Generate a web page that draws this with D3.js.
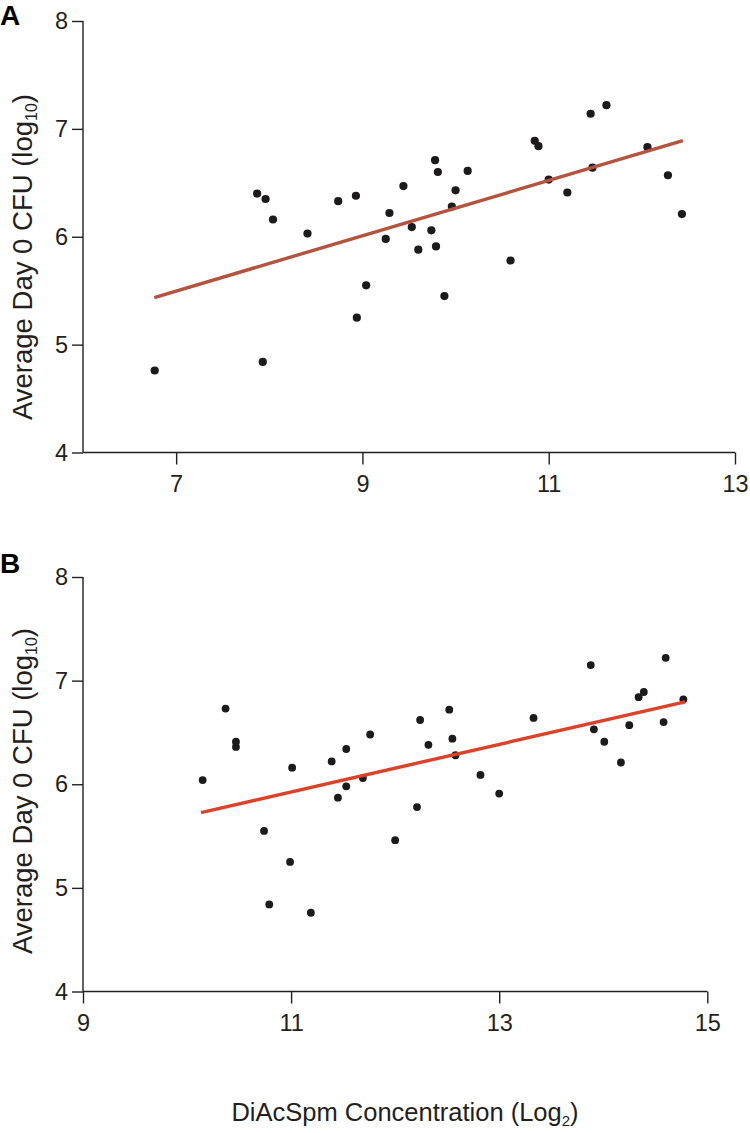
<!DOCTYPE html>
<html>
<head>
<meta charset="utf-8">
<script src="https://cdn.jsdelivr.net/npm/d3@7"></script>
<style>
  html, body { margin: 0; padding: 0; background: #fff; }
  svg { display: block; font-family: "Liberation Sans", Arial, Helvetica, sans-serif; }
</style>
</head>
<body>
<svg id="chart" width="750" height="1133"></svg>
<script>
// ---------- data ----------
const yTicks = [4, 5, 6, 7, 8];
const xTicksA = [7, 9, 11, 13];
const xTicksB = [9, 11, 13, 15];

// Panel A: [DiAcSpm (log2), CFU (log10)]
const pointsA = [
  [6.77, 4.76], [7.87, 6.40], [7.96, 6.35], [7.93, 4.84], [8.04, 6.16],
  [8.41, 6.03], [8.74, 6.33], [8.93, 6.38], [8.94, 5.25], [9.04, 5.55],
  [9.25, 5.98], [9.29, 6.22], [9.44, 6.47], [9.53, 6.09], [9.60, 5.88],
  [9.74, 6.06], [9.78, 6.71], [9.81, 6.60], [9.79, 5.91], [9.88, 5.45],
  [9.96, 6.28], [10.00, 6.43], [10.13, 6.61], [10.59, 5.78], [10.85, 6.89],
  [10.89, 6.84], [11.00, 6.53], [11.20, 6.41], [11.45, 7.14], [11.47, 6.64],
  [11.62, 7.22], [12.06, 6.83], [12.28, 6.57], [12.43, 6.21]
];
const fitA = [[6.765, 5.436], [12.44, 6.891]];

// Panel B
const pointsB = [
  [10.15, 6.04], [10.37, 6.73], [10.47, 6.41], [10.47, 6.36], [10.74, 5.55],
  [10.79, 4.84], [10.99, 5.25], [11.01, 6.16], [11.19, 4.76], [11.39, 6.22],
  [11.45, 5.87], [11.53, 6.34], [11.53, 5.98], [11.69, 6.06], [11.76, 6.48],
  [12.00, 5.46], [12.21, 5.78], [12.24, 6.62], [12.32, 6.38], [12.52, 6.72],
  [12.55, 6.44], [12.58, 6.28], [12.82, 6.09], [13.00, 5.91], [13.33, 6.64],
  [13.88, 7.15], [13.91, 6.53], [14.01, 6.41], [14.17, 6.21], [14.25, 6.57],
  [14.34, 6.84], [14.39, 6.89], [14.58, 6.60], [14.60, 7.22], [14.77, 6.82]
];
const fitB = [[10.134, 5.727], [14.786, 6.795]];

const yTitleMain = "Average Day 0 CFU (log";
const yTitleSub = "10";
const xTitleMain = "DiAcSpm Concentration (Log";
const xTitleSub = "2";

// ---------- drawing ----------
const svg = d3.select("#chart");

function panel(opts) {
  const g = svg.append("g");
  const x = d3.scaleLinear().domain(opts.xDomain).range([83, opts.xEnd]);
  const y = d3.scaleLinear().domain([4, 8]).range([opts.yBottom, opts.yTop]);

  const ya = g.append("g").attr("transform", "translate(83,0)")
    .call(d3.axisLeft(y).tickValues(yTicks).tickSize(11).tickPadding(4).tickFormat(d3.format("d")));
  const xa = g.append("g").attr("transform", `translate(0,${opts.yBottom})`)
    .call(d3.axisBottom(x).tickValues(opts.xTicks).tickSize(12).tickPadding(11).tickFormat(d3.format("d")));

  [ya, xa].forEach(a => {
    a.select(".domain").attr("stroke", "#231f20").attr("stroke-width", 1.4);
    a.selectAll(".tick line").attr("stroke", "#231f20").attr("stroke-width", 1.4);
    a.selectAll(".tick text").attr("fill", "#231f20")
      .style("font-size", "23.5px").style("font-family", "'Liberation Sans', Arial, sans-serif");
  });
  ya.select(".domain").attr("d", `M0,${opts.yTop}V${opts.yBottom}`);
  xa.select(".domain").attr("d", `M83,0H${opts.xEnd}`);

  g.append("g").selectAll("circle").data(opts.points).join("circle")
    .attr("cx", d => x(d[0])).attr("cy", d => y(d[1]))
    .attr("r", opts.r).attr("fill", "#1c1a1b");

  g.append("path").datum(opts.fit)
    .attr("d", d3.line().x(d => x(d[0])).y(d => y(d[1])))
    .attr("stroke", opts.lineColor).attr("stroke-width", 3.4)
    .attr("fill", "none").attr("stroke-linecap", "butt");

  const t = g.append("text")
    .attr("transform", `translate(32,${opts.titleY}) rotate(-90)`)
    .attr("text-anchor", "middle")
    .attr("fill", "#231f20")
    .style("font-size", "27.5px");
  t.append("tspan").text(yTitleMain);
  t.append("tspan").text(yTitleSub).style("font-size", "16px").attr("dy", 5);
  t.append("tspan").text(")").attr("dy", -5);

  g.append("text").attr("x", 0).attr("y", opts.letterY)
    .attr("fill", "#000").style("font-size", "28px").style("font-weight", "bold")
    .text(opts.letter);
}

panel({
  letter: "A", letterY: 25,
  xDomain: [6, 13], xEnd: 735, xTicks: xTicksA,
  yTop: 21, yBottom: 452.5,
  points: pointsA, fit: fitA, r: 4.1, lineColor: "#b5533c",
  titleY: 257
});

panel({
  letter: "B", letterY: 573,
  xDomain: [9, 15], xEnd: 707.3, xTicks: xTicksB,
  yTop: 577, yBottom: 991.5,
  points: pointsB, fit: fitB, r: 3.9, lineColor: "#dd4229",
  titleY: 791
});

const xt = svg.append("text")
  .attr("x", 405).attr("y", 1121)
  .attr("text-anchor", "middle").attr("fill", "#231f20")
  .style("font-size", "25.5px");
xt.append("tspan").text(xTitleMain);
xt.append("tspan").text(xTitleSub).style("font-size", "15px").attr("dy", 5);
xt.append("tspan").text(")").attr("dy", -5);
</script>
</body>
</html>
